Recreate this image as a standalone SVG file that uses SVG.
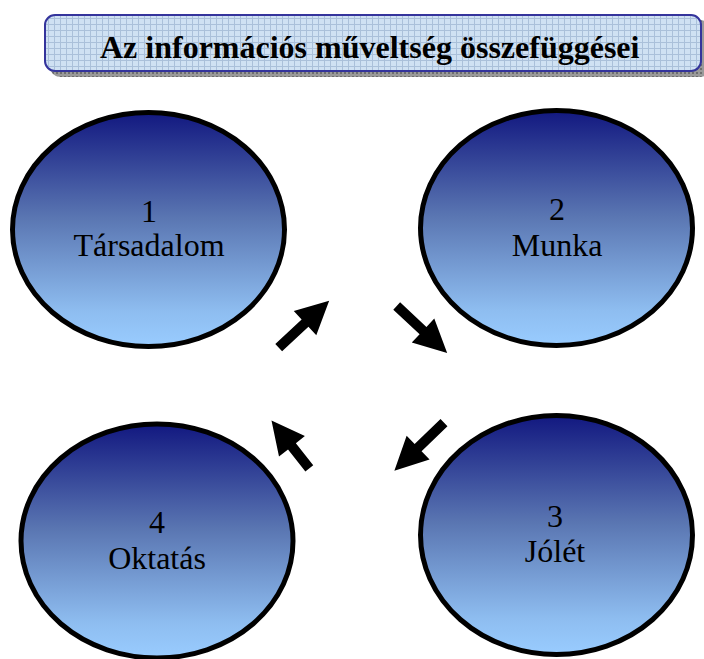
<svg xmlns="http://www.w3.org/2000/svg" width="704" height="659" viewBox="0 0 704 659">
<defs>
<style>
.node ellipse{fill:url(#eg);stroke:#000;stroke-width:5}
.lbl{font-family:"Liberation Serif","Times New Roman",serif;font-size:32px;fill:#000;text-anchor:middle}
.title{font-family:"Liberation Serif","Times New Roman",serif;font-size:32px;font-weight:bold;fill:#000}
.arr{fill:#000}
</style>
<linearGradient id="eg" x1="0" y1="0" x2="0" y2="1">
<stop offset="0" stop-color="#121880"/>
<stop offset="0.45" stop-color="#5a76b2"/>
<stop offset="0.85" stop-color="#8ebdf0"/>
<stop offset="1" stop-color="#99ccff"/>
</linearGradient>
<pattern id="tp" width="6" height="6" patternUnits="userSpaceOnUse">
<rect width="6" height="6" fill="#cfe1f3"/>
<rect x="0" y="0" width="6" height="1" fill="#aac0da"/>
<rect x="0" y="0" width="1" height="6" fill="#aac0da"/>
</pattern>
<pattern id="sp" width="4" height="4" patternUnits="userSpaceOnUse">
<rect width="4" height="4" fill="#9a9a9a"/>
<rect width="2" height="2" fill="#6e6e6e"/>
</pattern>
<path id="ar" d="M0,-5 L36,-5 L36,-16.5 L69,0 L36,16.5 L36,5 L0,5 Z"/>
</defs>
<g id="title">
<rect x="50" y="20" width="660" height="57" rx="10" fill="url(#sp)"/>
<rect x="45" y="15" width="656" height="56" rx="10" fill="url(#tp)" stroke="#34349c" stroke-width="2"/>
<text class="title" x="100" y="58">Az információs műveltség összefüggései</text>
</g>
<g id="n1" class="node">
<ellipse cx="148.5" cy="229.5" rx="136" ry="117"/>
<text class="lbl" x="149" y="222">1</text>
<text class="lbl" x="149" y="256">Társadalom</text>
</g>
<g id="n2" class="node">
<ellipse cx="556.5" cy="228" rx="136" ry="117.5"/>
<text class="lbl" x="557" y="220">2</text>
<text class="lbl" x="557" y="256">Munka</text>
</g>
<g id="n3" class="node">
<ellipse cx="556.5" cy="535" rx="136" ry="119.5"/>
<text class="lbl" x="555" y="527">3</text>
<text class="lbl" x="555" y="562">Jólét</text>
</g>
<g id="n4" class="node">
<ellipse cx="157" cy="541" rx="136" ry="117"/>
<text class="lbl" x="157" y="533">4</text>
<text class="lbl" x="157" y="569">Oktatás</text>
</g>
<g id="connectors" class="arr">
<use href="#ar" transform="translate(278.7,347.7) rotate(-43)"/>
<use href="#ar" transform="translate(396.7,306) rotate(43)"/>
<use href="#ar" transform="translate(444,422.7) rotate(136)"/>
<path d="M0,-5 L28,-5 L28,-16.5 L61,0 L28,16.5 L28,5 L0,5 Z" transform="translate(309.3,468.3) rotate(231.7)"/>
</g>
</svg>
